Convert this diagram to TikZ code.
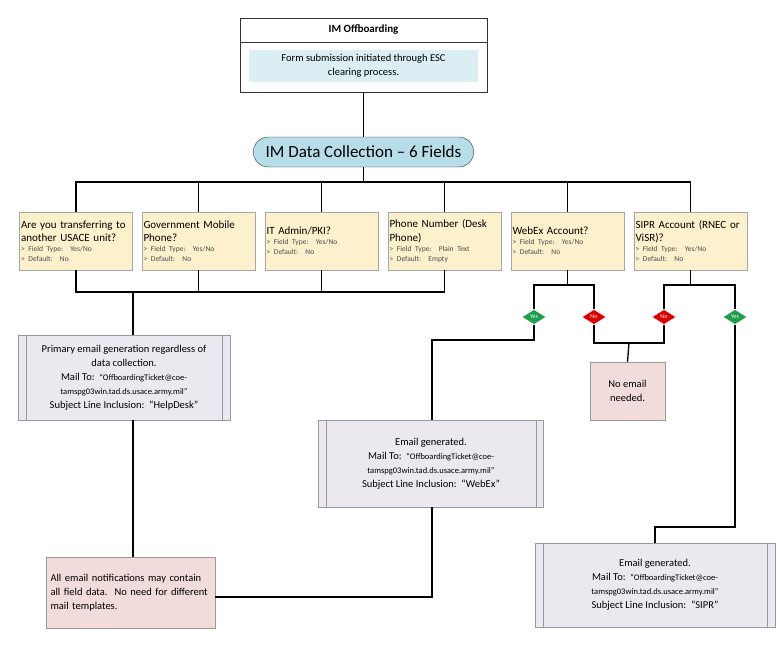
\documentclass[tikz,border=0pt]{standalone}
\usepackage{fontspec}
\setmainfont{Carlito}
\usetikzlibrary{shapes.geometric,shapes.misc}
\definecolor{fieldc}{HTML}{FDF0CC}
\definecolor{lav}{HTML}{ECE8F0}
\definecolor{pinkc}{HTML}{F2DCDB}
\definecolor{bluec}{HTML}{B7DDE8}
\definecolor{lblue}{HTML}{DAEEF3}
\definecolor{ygreen}{HTML}{1E9E4A}
\begin{document}
\begin{tikzpicture}[x=1pt,y=-1pt,
  fld/.style={draw=gray!70,fill=fieldc,minimum width=113pt,minimum height=58pt,text width=110pt,align=left,inner sep=1.5pt,font=\fontsize{11}{13.5}\selectfont},
  proc/.style={draw=gray!80,fill=lav,align=center,inner sep=0pt,font=\fontsize{10.5}{14}\selectfont},
  pnk/.style={draw=gray!80,fill=pinkc,align=left,font=\fontsize{10.5}{14}\selectfont},
  dia/.style={diamond,draw=white,inner sep=0pt,minimum width=24pt,minimum height=15pt,aspect=1.6,text=white,font=\fontsize{6}{6}\selectfont},
  ln/.style={line width=1.3pt}]
\useasboundingbox (0,0) rectangle (780,648);
\newcommand{\sm}[2]{\par{\fontsize{7.5}{10}\selectfont\color{black!70}> Field Type:\ \ #1\par > Default:\ \ #2\par}}
% title
\node[draw=black!80,fill=white,minimum width=247pt,minimum height=24pt,font=\bfseries\fontsize{11}{13}\selectfont] (t1) at (363.5,30) {IM Offboarding};
\node[draw=black!80,fill=white,minimum width=247pt,minimum height=50pt] (t2) at (363.5,67) {};
\node[fill=lblue,minimum width=229pt,minimum height=32pt,align=center,font=\fontsize{10.5}{14}\selectfont] (t3) at (363.5,66) {Form submission initiated through ESC\\clearing process.};
\node[draw=black!80,fill=bluec,rounded rectangle,minimum width=227pt,minimum height=30pt,font=\fontsize{17}{20}\selectfont] (dc) at (363.5,152) {IM Data Collection -- 6 Fields};
\draw[ln] (t2.south) -- (dc.north);
% fields
\node[fld] (f1) at (76,241) {Are you transferring to another USACE unit?\sm{Yes/No}{No}};
\node[fld] (f2) at (198.5,241) {Government Mobile Phone?\sm{Yes/No}{No}};
\node[fld] (f3) at (321.5,241) {IT Admin/PKI?\sm{Yes/No}{No}};
\node[fld] (f4) at (444.5,241) {Phone Number (Desk Phone)\sm{Plain Text}{Empty}};
\node[fld] (f5) at (567.5,241) {WebEx Account?\sm{Yes/No}{No}};
\node[fld] (f6) at (690.5,241) {SIPR Account (RNEC or ViSR)?\sm{Yes/No}{No}};
\coordinate (bus) at (363.5,182);
\draw[ln] (dc.south) -- (bus);
\foreach \f in {f1,f2,f3,f4,f5,f6}{\draw[ln] (bus) -| (\f.north);}
% process boxes
\newcommand{\pbox}[5]{\node[proc,minimum width=#3,minimum height=#4] (#1) at #2 {#5};
  \draw[gray!80] ([xshift=8pt]#1.north west) -- ([xshift=8pt]#1.south west);
  \draw[gray!80] ([xshift=-8pt]#1.north east) -- ([xshift=-8pt]#1.south east);}
\newcommand{\mailto}{Mail To:\ \ {\fontsize{8.5}{10}\selectfont``OffboardingTicket@coe-}\\{\fontsize{8.5}{10}\selectfont tamspg03win.tad.ds.usace.army.mil''}}
\pbox{p1}{(124,377.5)}{212pt}{85pt}{Primary email generation regardless of\\data collection.\\\mailto\\Subject Line Inclusion:\ \ ``HelpDesk''}
\pbox{p2}{(431,463.5)}{225pt}{87pt}{Email generated.\\\mailto\\Subject Line Inclusion:\ \ ``WebEx''}
\pbox{p3}{(655,585)}{240pt}{84pt}{Email generated.\\\mailto\\Subject Line Inclusion:\ \ ``SIPR''}
\node[pnk,minimum width=75pt,minimum height=58pt,align=center] (ne) at (627.5,391) {No email\\needed.};
\node[pnk,minimum width=169pt,minimum height=71pt,text width=160pt] (al) at (130.5,592.5) {All email notifications may contain all field data.\ \ No need for different mail templates.};
% left connectors
\coordinate (b2) at (133,292);
\draw[ln] (f1.south) |- (b2) -- (444.5,292) -- (f4.south);
\draw[ln] (f2.south) -- (198.5,292);
\draw[ln] (f3.south) -- (321.5,292);
\draw[ln] (b2) -- (133,335);
\draw[ln] (133,420) -- (133,557);
% diamonds
\node[dia,fill=ygreen] (y1) at (534,317) {Yes};
\node[dia,fill=red!85!black] (n1) at (594,317) {No};
\node[dia,fill=red!85!black] (n2) at (664,317) {No};
\node[dia,fill=ygreen] (y2) at (735,317) {Yes};
\draw[ln] (f5.south) -- (567.5,285);
\draw[ln] (y1.north) |- (567.5,285) -| (n1.north);
\draw[ln] (f6.south) -- (690.5,285);
\draw[ln] (n2.north) |- (690.5,285) -| (y2.north);
\draw[ln] (y1.south) |- (432,340) -- (432,420);
\coordinate (nm) at (629,343);
\draw[ln] (n1.south) |- (nm) -| (n2.south);
\draw[ln] (nm) -- (ne.north);
\draw[ln] (y2.south) |- (655,527) -- (p3.north);
\draw[ln] (432,507) |- (al.east|-0,597);
\end{tikzpicture}
\end{document}
